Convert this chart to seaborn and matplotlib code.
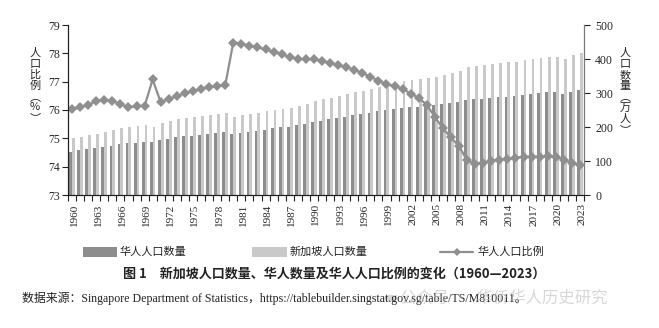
import numpy as np
import pandas as pd
import matplotlib
matplotlib.use("Agg")
import matplotlib.pyplot as plt
from matplotlib.patches import Rectangle, Circle
from matplotlib.lines import Line2D
from matplotlib.transforms import ScaledTranslation
import seaborn as sns

# ---- data -------------------------------------------------------------
years = list(range(1960, 2024))

# Chinese resident population (10k persons)
chinese_pop = [
    127.5, 131.4, 135.3, 139.2, 142.2, 145.1, 149.0, 152.0, 154.0, 157.0,
    157.0, 161.8, 165.7, 169.6, 172.5, 174.5, 176.5, 179.4, 181.4, 184.3,
    179.4, 183.3, 186.3, 189.2, 192.2, 196.1, 199.0, 201.0, 206.0, 208.8,
    214.7, 218.6, 222.2, 226.8, 229.7, 234.6, 238.5, 242.4, 246.3, 249.3,
    252.2, 256.1, 259.0, 259.0, 263.0, 263.9, 266.9, 270.8, 273.6, 278.4,
    281.4, 282.4, 285.3, 287.3, 289.2, 292.2, 294.1, 297.1, 300.0, 302.0,
    302.9, 297.1, 303.9, 308.8,
]

# Singapore resident population (10k persons)
total_pop = [
    166.7, 171.6, 176.5, 180.4, 185.3, 191.2, 196.1, 200.0, 202.9, 205.9,
    201.0, 212.7, 218.6, 222.5, 225.5, 230.4, 232.4, 235.3, 237.3, 240.2,
    230.4, 234.3, 238.2, 242.2, 247.1, 250.0, 253.9, 256.9, 261.8, 266.7,
    276.5, 282.4, 286.4, 291.3, 296.2, 302.0, 306.9, 312.8, 318.7, 324.6,
    330.4, 334.3, 339.3, 340.2, 343.1, 348.0, 351.9, 359.8, 365.2, 375.5,
    379.4, 381.4, 385.3, 387.3, 390.2, 392.2, 396.1, 399.0, 402.0, 404.9,
    406.9, 401.0, 410.8, 416.7,
]

# Share of Chinese in the population (%)
chinese_share = [
    76.03, 76.09, 76.18, 76.32, 76.35, 76.32, 76.21, 76.09, 76.14, 76.14,
    77.08, 76.27, 76.39, 76.49, 76.59, 76.66, 76.73, 76.81, 76.85, 76.88,
    78.38, 78.34, 78.27, 78.21, 78.14, 78.05, 77.96, 77.87, 77.81, 77.79,
    77.79, 77.73, 77.65, 77.58, 77.51, 77.42, 77.30, 77.18, 77.03, 76.91,
    76.84, 76.75, 76.58, 76.43, 76.18, 75.76, 75.35, 75.03, 74.72, 74.22,
    74.10, 74.12, 74.20, 74.25, 74.28, 74.32, 74.34, 74.35, 74.35, 74.37,
    74.35, 74.25, 74.13, 74.06,
]

bar_names = ["华人人口数量", "新加坡人口数量"]
line_name = "华人人口比例"
left_label = "人口比例︵%︶"
right_label = "人口数量︵万人︶"
caption = "图 1　新加坡人口数量、华人数量及华人人口比例的变化（1960—2023）"
source = ("数据来源：Singapore Department of Statistics，"
          "https://tablebuilder.singstat.gov.sg/table/TS/M810011。")
mark = "公众号 ·  华侨华人历史研究"

# ---- style ------------------------------------------------------------
dark_grey = "#8d8d8d"
light_grey = "#c9c9c9"
line_grey = "#8f8f8f"
ink = "#222222"

sns.set_style("ticks")
plt.rcParams["font.family"] = ["Noto Sans CJK SC", "DejaVu Sans"]
serif = ["Liberation Serif", "Noto Sans CJK SC"]

W, H = 659, 328
fig = plt.figure(figsize=(W / 100, H / 100), dpi=100)


def fx(px):
    return px / W


def fy(py):
    return 1 - py / H


ax = fig.add_axes([fx(68), fy(195), fx(584) - fx(68), fy(25) - fy(195)])
ax2 = ax.twinx()

# ---- bars (right axis) -------------------------------------------------
bars = pd.DataFrame({
    "year": years * 2,
    "value": chinese_pop + total_pop,
    "series": [bar_names[0]] * len(years) + [bar_names[1]] * len(years),
})
sns.barplot(data=bars, x="year", y="value", hue="series", hue_order=bar_names,
            palette=[dark_grey, light_grey], saturation=1, width=0.7,
            errorbar=None, linewidth=0, legend=False, ax=ax2)

# ---- share line (left axis) -------------------------------------------
sns.lineplot(x=np.arange(len(years)), y=chinese_share, ax=ax, color=line_grey,
             linewidth=1.6, marker="D", markersize=4.6, markeredgewidth=0,
             markerfacecolor=line_grey)

ax.set_zorder(ax2.get_zorder() + 1)
ax.patch.set_visible(False)

ax.set_xlim(-0.5, len(years) - 0.5)
ax.set_ylim(73, 79)
ax.set_yticks(range(73, 80))
ax2.set_ylim(0, 500)
ax2.set_yticks(range(0, 501, 100))

ax.set_xticks(range(0, len(years), 3))
ax.set_xticklabels([str(y) for y in years[::3]], rotation=90)
ax.set_xticks(np.arange(-0.5, len(years), 1), minor=True)

for a in (ax, ax2):
    a.set_xlabel("")
    a.set_ylabel("")
    a.grid(False)

ax.spines["top"].set_visible(False)
ax.spines["right"].set_visible(False)
ax.spines["left"].set_color(ink)
ax.spines["bottom"].set_color(ink)
ax.spines["left"].set_linewidth(0.9)
ax.spines["bottom"].set_linewidth(0.9)
ax2.spines["top"].set_visible(False)
ax2.spines["left"].set_visible(False)
ax2.spines["bottom"].set_visible(False)
ax2.spines["right"].set_color("#7a7a7a")
ax2.spines["right"].set_linewidth(0.9)

ax.tick_params(axis="x", which="major", length=0, pad=6, labelsize=8)
ax.tick_params(axis="x", which="minor", length=4, width=0.8, color=ink)
ax.tick_params(axis="y", length=4, width=0.8, color=ink, pad=2, labelsize=8.5)
ax2.tick_params(axis="y", length=4, width=0.8, color=ink, pad=4, labelsize=8.5)

shift = ScaledTranslation(2 / 100, 0, fig.dpi_scale_trans)
for t in ax.get_xticklabels():
    t.set_fontfamily(serif)
    t.set_transform(t.get_transform() + shift)
for t in ax.get_yticklabels() + ax2.get_yticklabels():
    t.set_fontfamily(serif)

# ---- stacked vertical axis titles -------------------------------------
for i, ch in enumerate(left_label):
    fig.text(fx(35), fy(53 + i * 10.9), ch, ha="center", va="center",
             fontsize=8, color=ink)
for i, ch in enumerate(right_label):
    fig.text(fx(625), fy(53 + i * 11.0), ch, ha="center", va="center",
             fontsize=8, color=ink)

# ---- legend -----------------------------------------------------------
ly = 252
fig.patches.append(Rectangle((fx(83), fy(257)), fx(117) - fx(83), fy(247) - fy(257),
                             transform=fig.transFigure, color=dark_grey, lw=0))
fig.text(fx(120), fy(ly), bar_names[0], ha="left", va="center", fontsize=8, color=ink)
fig.patches.append(Rectangle((fx(252), fy(257)), fx(287) - fx(252), fy(247) - fy(257),
                             transform=fig.transFigure, color=light_grey, lw=0))
fig.text(fx(290), fy(ly), bar_names[1], ha="left", va="center", fontsize=8, color=ink)
fig.lines.append(Line2D([fx(440), fx(473)], [fy(ly), fy(ly)], transform=fig.transFigure,
                        color=line_grey, linewidth=1.6))
fig.lines.append(Line2D([fx(456.5)], [fy(ly)], transform=fig.transFigure, color=line_grey,
                        marker="D", markersize=4.0, markeredgewidth=0))
fig.text(fx(478), fy(ly), line_name, ha="left", va="center", fontsize=8, color=ink)

# ---- caption and source ------------------------------------------------
fig.text(fx(334), fy(274), caption, ha="center", va="center", fontsize=9.4,
         fontweight="bold", color=ink)
fig.text(fx(22), fy(298), source, ha="left", va="center", fontsize=8.6,
         color=ink, family=serif)

# faint account mark
fig.patches.append(Circle((fx(391), fy(298)), 6.5 / W, transform=fig.transFigure,
                          color="#bdbdbd", alpha=0.6, lw=0))
fig.text(fx(400), fy(298), mark, ha="left", va="center", fontsize=11.8,
         color="#bdbdbd", alpha=0.6)

fig.savefig("out.png", dpi=100)
